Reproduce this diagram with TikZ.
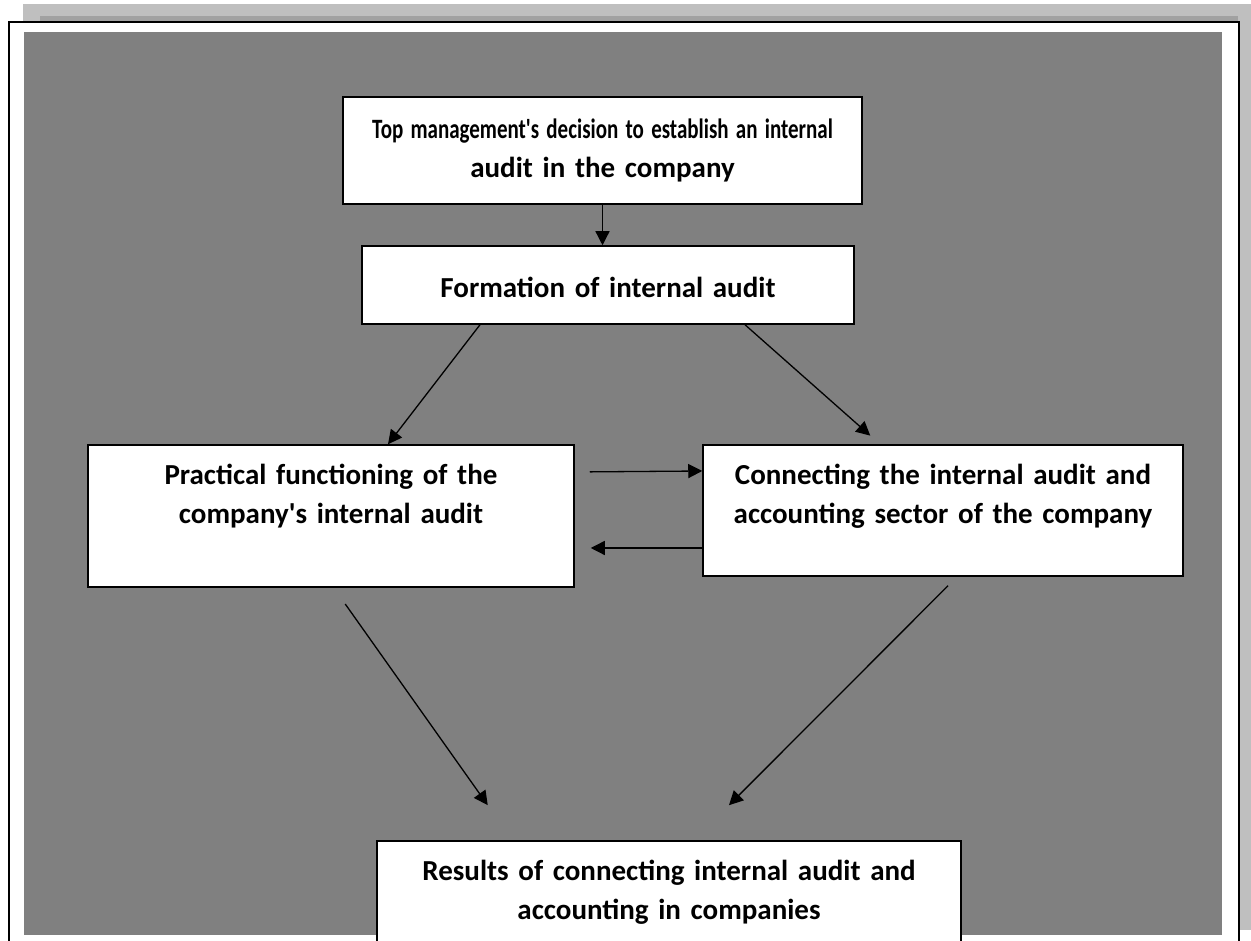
\documentclass[tikz,border=0pt]{standalone}
\usepackage{fontspec}
\usepackage{graphicx}
\setmainfont{Carlito}
\usetikzlibrary{arrows.meta, positioning}

\begin{document}
\begin{tikzpicture}[
    x=1pt, y=1pt,
    box/.style={
        rectangle,
        draw=black, line width=1.5pt,
        fill=white,
        inner sep=0pt
    },
    box_text/.style={
        text width=700pt,
        align=center,
        inner sep=0pt,
        font=\fontsize{29}{39}\selectfont\bfseries
    },
    arrow/.style={
        line width=1.3pt, -{Triangle[length=14pt,width=14pt]}
    }
]

\useasboundingbox (0,0) rectangle (1251,941);
\begin{scope}
\clip (0,0) rectangle (1251,941);

% page shadow, frame and grey background
\fill[black!25] (23,11) rectangle (1251,937);
\fill[black!37] (40,920) rectangle (1238,925);
\fill[white] (9,-10) rectangle (1239,919);
\draw[line width=2pt] (9,-10) -- (9,919) -- (1239,919) -- (1239,-10);
\fill[black!50] (24,6) rectangle (1222,909);

% boxes
\node (decision) [box, minimum width=519pt, minimum height=107pt] at (602.5,790.5) {};
\node (formation) [box, minimum width=492pt, minimum height=78pt] at (608,656) {};
\node (practice) [box, minimum width=486pt, minimum height=142pt] at (331,425) {};
\node (connecting) [box, minimum width=480pt, minimum height=131pt] at (943,430.5) {};
\node (results) [box, minimum width=584pt, minimum height=160pt] at (669,20) {};

% texts
\node (decision_text) [box_text] at ([yshift=0pt]decision.center)
    {{\fontsize{28}{39}\selectfont\scalebox{0.75}[1]{Top management\textquotesingle s decision to establish an internal}}\\audit in the company};
\node (formation_text) [box_text] at ([yshift=-2pt]formation.center)
    {Formation of internal audit};
\node (practice_text) [box_text] at ([yshift=20pt]practice.center)
    {Practical functioning of the\\company\textquotesingle s internal audit};
\node (connecting_text) [box_text] at ([yshift=14pt]connecting.center)
    {Connecting the internal audit and\\accounting sector of the company};
\node (results_text) [box_text] at ([yshift=28.5pt]results.center)
    {Results of connecting internal audit and\\accounting in companies};

% arrows
\draw [arrow] (decision.south) -- (decision.south |- formation.north);
\draw [arrow] ([xshift=-128pt]formation.south) -- ([xshift=57pt]practice.north);
\draw [arrow, shorten >=13pt] ([xshift=137pt]formation.south) -- ([xshift=-63pt]connecting.north);
\draw [arrow, shorten <=15pt] ([yshift=44pt]practice.east) -- ([yshift=39.5pt]connecting.west);
\draw [arrow, shorten >=16pt] ([yshift=-37.5pt]connecting.west) -- ([yshift=-32pt]practice.east);
\draw [arrow, shorten <=20pt, shorten >=43pt] ([xshift=2.7pt]practice.south) -- ([xshift=-156.4pt]results.north);
\draw [arrow, shorten <=12.6pt, shorten >=49.5pt] ([xshift=14pt]connecting.south) -- ([xshift=25pt]results.north);

\end{scope}
\end{tikzpicture}
\end{document}
